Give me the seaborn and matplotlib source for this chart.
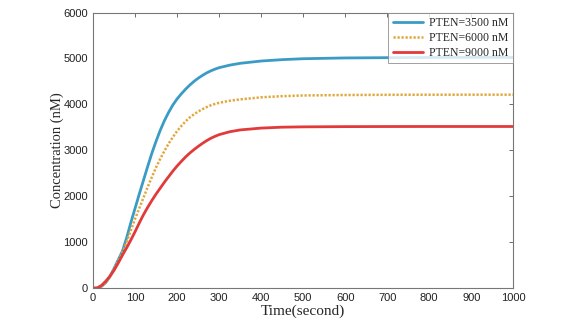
import numpy as np
import pandas as pd
import matplotlib
matplotlib.use("Agg")
import matplotlib.pyplot as plt
import seaborn as sns

# ================================
# Data
# ================================
time_s = [0, 10, 20, 30, 40, 50, 60, 70, 80, 90,
          100, 110, 120, 130, 140, 150, 160, 170, 180, 190,
          200, 210, 220, 230, 240, 250, 260, 270, 280, 290,
          300, 325, 350, 400, 450, 500, 600, 700, 800, 900, 1000]

pten_3500 = [0, 5, 40, 120, 250, 430, 620, 810, 1100, 1430,
             1740, 2050, 2350, 2650, 2940, 3200, 3440, 3650, 3830, 3990,
             4120, 4230, 4330, 4420, 4500, 4570, 4630, 4685, 4730, 4768,
             4800, 4855, 4895, 4945, 4975, 4995, 5012, 5018, 5022, 5024, 5025]
pten_6000 = [0, 5, 38, 115, 245, 420, 600, 780, 1000, 1260,
             1510, 1740, 1970, 2200, 2420, 2630, 2820, 2990, 3150, 3290,
             3420, 3530, 3630, 3715, 3785, 3845, 3895, 3940, 3980, 4010,
             4035, 4080, 4110, 4155, 4180, 4195, 4205, 4210, 4211, 4212, 4212]
pten_9000 = [0, 5, 60, 150, 260, 390, 550, 720, 880, 1050,
             1230, 1420, 1600, 1760, 1910, 2050, 2180, 2310, 2430, 2550,
             2660, 2760, 2855, 2940, 3015, 3085, 3150, 3210, 3262, 3305,
             3342, 3405, 3445, 3485, 3505, 3512, 3517, 3519, 3520, 3520, 3520]

labels = ["PTEN=3500 nM", "PTEN=6000 nM", "PTEN=9000 nM"]
colors = ["#3a9cc4", "#e0a83a", "#e23a3a"]

df = pd.DataFrame({"time": time_s * 3,
                   "conc": pten_3500 + pten_6000 + pten_9000,
                   "series": sum([[l] * len(time_s) for l in labels], [])})

# ================================
# Plot
# ================================
sns.set_style("white")
plt.rcParams["font.family"] = ["Liberation Sans", "DejaVu Sans"]

fig = plt.figure(figsize=(5.64, 3.22), dpi=100)
ax = fig.add_axes([0.165, 0.105, 0.745, 0.856])

for lab, col in zip(labels, colors):
    sub = df[df["series"] == lab]
    sns.lineplot(data=sub, x="time", y="conc", ax=ax, color=col,
                 linewidth=1.8 if lab == "PTEN=6000 nM" else 2.0, label=lab)
    if lab == "PTEN=6000 nM":
        ax.lines[-1].set_dashes([0.9, 0.7])

ax.set_xlim(0, 1000)
ax.set_ylim(0, 6000)
ax.set_xticks(np.arange(0, 1001, 100))
ax.set_yticks(np.arange(0, 6001, 1000))
ax.tick_params(direction="in", length=3, width=0.6, colors="#555555",
               labelcolor="#222222", labelsize=8, top=True, right=True)
for sp in ax.spines.values():
    sp.set_color("#777777")
    sp.set_linewidth(0.8)

ax.set_xlabel("Time(second)", family="Liberation Serif", fontsize=11, labelpad=1)
ax.set_ylabel("Concentration (nM)", family="Liberation Serif", fontsize=10.5, labelpad=0)

leg = ax.legend(loc="upper right", prop={"family": "Liberation Serif", "size": 8.5},
                fancybox=False, frameon=True, borderaxespad=0.05, handlelength=2.6,
                handletextpad=0.5, labelspacing=0.25, borderpad=0.35)
leg.get_frame().set_edgecolor("#888888")
leg.get_frame().set_linewidth(0.7)
leg.get_lines()[1].set_dashes([0.9, 0.7])

fig.savefig("out.png", dpi=100)
